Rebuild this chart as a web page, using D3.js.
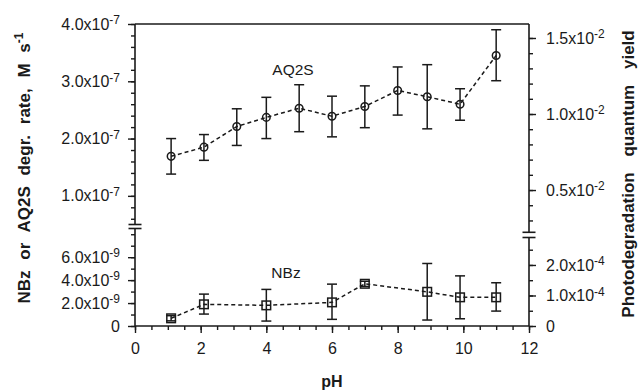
<!DOCTYPE html>
<html>
<head>
<meta charset="UTF-8">
<title>AQ2S / NBz vs pH</title>
<script src="https://cdn.jsdelivr.net/npm/d3@7"></script>
<style>
  body { margin: 0; background: #fff; }
  svg text { font-family: "Liberation Sans", Arial, Helvetica, sans-serif; fill: #1a1a1a; }
</style>
</head>
<body>
<div id="chart"></div>
<script>
// AQ2S (circles)
var aqPH = [1.1, 2.1, 3.1, 4.0, 5.0, 6.0, 7.0, 8.0, 8.9, 9.9, 11.0];
var aqRate = [1.69e-7, 1.85e-7, 2.21e-7, 2.37e-7, 2.53e-7, 2.39e-7, 2.56e-7, 2.84e-7, 2.73e-7, 2.60e-7, 3.45e-7];
var aqHigh = [2.00e-7, 2.07e-7, 2.52e-7, 2.72e-7, 2.94e-7, 2.74e-7, 2.92e-7, 3.25e-7, 3.29e-7, 2.87e-7, 3.90e-7];
var aqLow  = [1.38e-7, 1.62e-7, 1.88e-7, 2.00e-7, 2.12e-7, 2.03e-7, 2.19e-7, 2.41e-7, 2.17e-7, 2.32e-7, 3.01e-7];

// NBz (squares)
var nbPH = [1.1, 2.1, 4.0, 6.0, 7.0, 8.9, 9.9, 11.0];
var nbRate = [0.67e-9, 1.89e-9, 1.80e-9, 2.06e-9, 3.68e-9, 2.98e-9, 2.50e-9, 2.50e-9];
var nbHigh = [0.90e-9, 2.78e-9, 3.19e-9, 3.65e-9, 3.90e-9, 5.45e-9, 4.37e-9, 3.77e-9];
var nbLow  = [0.45e-9, 1.04e-9, 0.43e-9, 0.58e-9, 3.45e-9, 0.52e-9, 0.63e-9, 1.30e-9];

// ticks and labels
var xTicks = [0, 2, 4, 6, 8, 10, 12];
var leftUpTicks = [1e-7, 2e-7, 3e-7, 4e-7];
var leftUpLabels = [["1.0x10", "-7"], ["2.0x10", "-7"], ["3.0x10", "-7"], ["4.0x10", "-7"]];
var leftLoTicks = [0, 2e-9, 4e-9, 6e-9];
var leftLoLabels = [["0", ""], ["2.0x10", "-9"], ["4.0x10", "-9"], ["6.0x10", "-9"]];
var rightUpTicks = [0.5e-2, 1.0e-2, 1.5e-2];
var rightUpLabels = [["0.5x10", "-2"], ["1.0x10", "-2"], ["1.5x10", "-2"]];
var rightLoTicks = [0, 1e-4, 2e-4];
var rightLoLabels = [["0", ""], ["1.0x10", "-4"], ["2.0x10", "-4"]];

var W = 640, H = 391;
var svg = d3.select("#chart").append("svg").attr("width", W).attr("height", H);

var x = d3.scaleLinear().domain([0, 12]).range([135, 529]);
var yUpL = d3.scaleLinear().domain([0.5e-7, 4e-7]).range([224.5, 24]);
var yLoL = d3.scaleLinear().domain([0, 8.5e-9]).range([326, 228.5]);
var yUpR = d3.scaleLinear().domain([0.222e-2, 1.592e-2]).range([232.3, 24]);
var yLoR = d3.scaleLinear().domain([0, 2.9e-4]).range([326, 237.5]);

var ink = "#1a1a1a";

function range(a, b, s) {
	var out = [];
	for (var v = a; v <= b + s / 1000; v += s) out.push(+v.toPrecision(6));
	return out;
}

// draw axis with major (labelled) and minor ticks
function drawAxis(axisFn, scale, pos, majors, labels, minors, vertical) {
	var gMinor = svg.append("g").attr("transform", vertical ? "translate(" + pos + ",0)" : "translate(0," + pos + ")")
		.call(axisFn(scale).tickValues(minors).tickSize(4).tickFormat(""));
	gMinor.select(".domain").remove();
	var g = svg.append("g").attr("transform", vertical ? "translate(" + pos + ",0)" : "translate(0," + pos + ")")
		.call(axisFn(scale).tickValues(majors).tickSize(7).tickPadding(vertical ? 8 : 10)
			.tickFormat(function (d, i) { return ""; }));
	g.select(".domain").remove();
	g.selectAll(".tick text").each(function (d, i) {
		var t = d3.select(this).style("font-size", "16px").attr("fill", ink);
		var lab = labels[i];
		t.append("tspan").text(lab[0]);
		if (lab[1]) {
			t.append("tspan").text(lab[1]).style("font-size", "12px").attr("dy", "-0.45em");
		}
	});
	svg.selectAll(".tick line").attr("stroke", ink).attr("stroke-width", 1.4);
	return g;
}

// x axis
drawAxis(d3.axisBottom, x, 326, xTicks, xTicks.map(function (d) { return [String(d), ""]; }), range(0, 12, 0.5), false);
// left axes
drawAxis(d3.axisLeft, yUpL, 135, leftUpTicks, leftUpLabels, range(0.6e-7, 4e-7, 0.2e-7), true);
drawAxis(d3.axisLeft, yLoL, 135, leftLoTicks, leftLoLabels, range(0, 8e-9, 1e-9), true);
// right axes
var gr1 = drawAxis(d3.axisRight, yUpR, 529, rightUpTicks, rightUpLabels, range(0.3e-2, 1.5e-2, 0.1e-2), true);
var gr2 = drawAxis(d3.axisRight, yLoR, 529, rightLoTicks, rightLoLabels, range(0, 2.5e-4, 0.5e-4), true);
gr1.selectAll(".tick text").attr("x", 17);
gr2.selectAll(".tick text").attr("x", 17);

// axis lines, frame and breaks
var frame = svg.append("g").attr("stroke", ink).attr("stroke-width", 1.6).attr("fill", "none");
frame.append("line").attr("x1", x(0)).attr("x2", x(12)).attr("y1", yLoL(0)).attr("y2", yLoL(0));
frame.append("line").attr("x1", x(0)).attr("x2", x(12)).attr("y1", yUpL.range()[1]).attr("y2", yUpL.range()[1]);
frame.append("line").attr("x1", x(0)).attr("x2", x(0)).attr("y1", yUpL.range()[1]).attr("y2", yUpL.range()[0]);
frame.append("line").attr("x1", x(0)).attr("x2", x(0)).attr("y1", yLoL.range()[1]).attr("y2", yLoL.range()[0]);
frame.append("line").attr("x1", x(12)).attr("x2", x(12)).attr("y1", yUpR.range()[1]).attr("y2", yUpR.range()[0]);
frame.append("line").attr("x1", x(12)).attr("x2", x(12)).attr("y1", yLoR.range()[1]).attr("y2", yLoR.range()[0]);
[yUpL.range()[0], yLoL.range()[1]].forEach(function (yy) {
	frame.append("line").attr("x1", x(0) - 6.5).attr("x2", x(0) + 6.5).attr("y1", yy).attr("y2", yy);
});
[yUpR.range()[0], yLoR.range()[1]].forEach(function (yy) {
	frame.append("line").attr("x1", x(12) - 6.5).attr("x2", x(12) + 6.5).attr("y1", yy).attr("y2", yy);
});

// series drawing
function drawSeries(px, vals, hi, lo, yScale, shape) {
	var pts = px.map(function (p, i) { return { x: p, v: vals[i], hi: hi[i], lo: lo[i] }; });
	var g = svg.append("g");
	g.append("path")
		.attr("d", d3.line().x(function (d) { return x(d.x); }).y(function (d) { return yScale(d.v); })(pts))
		.attr("fill", "none").attr("stroke", ink).attr("stroke-width", 1.5).attr("stroke-dasharray", "4,3");
	var eb = g.selectAll(".eb").data(pts).enter().append("g").attr("stroke", ink).attr("stroke-width", 1.5);
	eb.append("line").attr("x1", function (d) { return x(d.x); }).attr("x2", function (d) { return x(d.x); })
		.attr("y1", function (d) { return yScale(d.hi); }).attr("y2", function (d) { return yScale(d.lo); });
	["hi", "lo"].forEach(function (k) {
		eb.append("line").attr("x1", function (d) { return x(d.x) - 5; }).attr("x2", function (d) { return x(d.x) + 5; })
			.attr("y1", function (d) { return yScale(d[k]); }).attr("y2", function (d) { return yScale(d[k]); });
	});
	if (shape === "circle") {
		g.selectAll(".mk").data(pts).enter().append("circle")
			.attr("cx", function (d) { return x(d.x); }).attr("cy", function (d) { return yScale(d.v); })
			.attr("r", 3.8).attr("fill", "none").attr("stroke", ink).attr("stroke-width", 1.5);
	} else {
		g.selectAll(".mk").data(pts).enter().append("rect")
			.attr("x", function (d) { return x(d.x) - 4.3; }).attr("y", function (d) { return yScale(d.v) - 4.3; })
			.attr("width", 8.6).attr("height", 8.6).attr("fill", "none").attr("stroke", ink).attr("stroke-width", 1.5);
	}
}

drawSeries(aqPH, aqRate, aqHigh, aqLow, yUpL, "circle");
drawSeries(nbPH, nbRate, nbHigh, nbLow, yLoL, "square");

// series labels
svg.append("text").attr("x", 293).attr("y", 75).attr("text-anchor", "middle").style("font-size", "15.5px").text("AQ2S");
svg.append("text").attr("x", 286).attr("y", 278).attr("text-anchor", "middle").style("font-size", "15.5px").text("NBz");

// axis titles
svg.append("text").attr("x", 332).attr("y", 387).attr("text-anchor", "middle")
	.style("font-size", "16px").style("font-weight", "bold").text("pH");

var lt = svg.append("text").attr("transform", "translate(30,168) rotate(-90)").attr("text-anchor", "middle")
	.style("font-size", "17px").style("font-weight", "bold").style("word-spacing", "6px");
lt.append("tspan").text("NBz or AQ2S degr. rate, M s");
lt.append("tspan").text("-1").style("font-size", "12px").attr("dy", "-0.6em");

svg.append("text").attr("transform", "translate(634,174) rotate(-90)").attr("text-anchor", "middle")
	.style("font-size", "17px").style("font-weight", "bold").style("word-spacing", "11px")
	.text("Photodegradation quantum yield");
</script>
</body>
</html>
